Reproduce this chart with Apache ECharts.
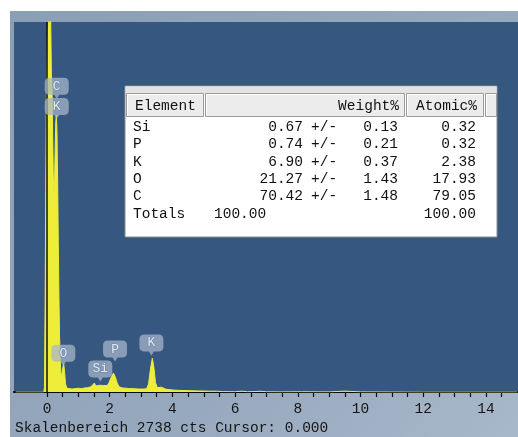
<!DOCTYPE html>
<html>
<head>
<meta charset="utf-8">
<script src="https://cdn.jsdelivr.net/npm/echarts@6/dist/echarts.min.js"></script>
<style>
  html, body { margin: 0; padding: 0; background: #ffffff; }
  #chart { width: 518px; height: 437px; }
</style>
</head>
<body>
<div id="chart"></div>
<script>
// EDS spectrum: energy (keV) and counts
const energy = [
  -1.00, -0.10, -0.08, -0.06, -0.04, -0.02, 0.00, 0.02, 0.04, 0.06, 0.08, 0.10,
  0.12, 0.14, 0.16, 0.18, 0.20, 0.22, 0.24, 0.26, 0.28, 0.30, 0.32, 0.34, 0.36,
  0.38, 0.40, 0.42, 0.44, 0.46, 0.48, 0.50, 0.53, 0.56, 0.59, 0.63, 0.70, 0.80,
  0.90, 1.00, 1.10, 1.20, 1.30, 1.40, 1.46, 1.51, 1.56, 1.62, 1.68, 1.74, 1.80,
  1.86, 1.92, 1.98, 2.05, 2.12, 2.18, 2.24, 2.30, 2.40, 2.50, 2.60, 2.70, 2.80,
  2.90, 3.00, 3.10, 3.18, 3.24, 3.30, 3.36, 3.41, 3.46, 3.52, 3.58, 3.64, 3.70,
  3.80, 3.90, 4.00, 4.20, 4.50, 4.80, 5.00, 5.20, 5.40, 5.60, 6.00, 6.20, 6.40,
  6.80, 7.00, 7.50, 8.00, 8.06, 8.12, 9.00, 9.45, 9.55, 9.60, 10.00, 12.00, 15.00
];
const counts = [
  0, 0, 40, 650, 1500, 2200, 2450, 2600, 2750, 3200, 3600, 3400,
  2700, 2350, 2250, 1900, 1600, 1450, 1550, 1800, 2000, 2050, 1900, 1550, 1100,
  700, 420, 250, 150, 110, 120, 170, 210, 150, 60, 30, 25, 22,
  25, 28, 25, 30, 32, 38, 50, 66, 45, 42, 50, 64, 48,
  42, 48, 70, 110, 140, 110, 65, 38, 30, 28, 26, 25, 24,
  22, 22, 22, 25, 60, 170, 250, 180, 70, 32, 38, 36, 28,
  20, 18, 15, 12, 10, 8, 7, 6, 6, 3, 2, 6, 2,
  5, 2, 1, 2, 6, 2, 1, 6, 6, 1, 1, 0, 0
];

// Element line markers (label, energy keV, counts at marker tip)
const markerNames = ['C', 'K', 'O', 'Si', 'P', 'K'];
const markerEnergy = [0.31, 0.31, 0.52, 1.70, 2.17, 3.33];
const markerCounts = [2170, 2020, 195, 78, 225, 270];

// Quantification table
const tableElements = ['Si', 'P', 'K', 'O', 'C'];
const weightPct = ['0.67', '0.74', '6.90', '21.27', '70.42'];
const weightErr = ['0.13', '0.21', '0.37', '1.43', '1.48'];
const atomicPct = ['0.32', '0.32', '2.38', '17.93', '79.05'];
const totalWeight = '100.00';
const totalAtomic = '100.00';

// Axis
const tickValues = [0, 0.5, 1, 1.5, 2, 2.5, 3, 3.5, 4, 4.5, 5, 5.5, 6, 6.5, 7, 7.5,
  8, 8.5, 9, 9.5, 10, 10.5, 11, 11.5, 12, 12.5, 13, 13.5, 14, 14.5];
const tickLabels = [0, 2, 4, 6, 8, 10, 12, 14];
const scaleCounts = 2738;
const cursorKeV = 0;

const MONO = '"Liberation Mono", "DejaVu Sans Mono", monospace';
const FONT = '14.5px ' + MONO;

const chart = echarts.init(document.getElementById('chart'), null, { renderer: 'canvas' });

// table graphics
const tx = 125, ty = 86, tw = 372, th = 151;
const rowY0 = 127, rowStep = 17.4;
const tableChildren = [
  { type: 'rect', shape: { x: tx, y: ty, width: tw, height: th },
    style: { fill: '#ffffff', stroke: '#8c8c8c', lineWidth: 1 } },
  { type: 'rect', shape: { x: tx + 0.5, y: ty + 0.5, width: tw - 1, height: 7 },
    style: { fill: '#e3e3e3', stroke: null } }
];
const headerCells = [
  { x: 126, w: 77, text: 'Element', align: 'left', tx: 135 },
  { x: 205, w: 199, text: 'Weight%', align: 'right', tx: 399 },
  { x: 406, w: 77, text: 'Atomic%', align: 'right', tx: 477 },
  { x: 485, w: 11, text: '', align: 'left', tx: 486 }
];
headerCells.forEach(c => {
  tableChildren.push({ type: 'rect', shape: { x: c.x + 0.5, y: 93.5, width: c.w, height: 23 },
    style: { fill: '#ececec', stroke: '#9a9a9a', lineWidth: 1 } });
  tableChildren.push({ type: 'polyline', shape: { points: [[c.x + 1.5, 115.5], [c.x + 1.5, 94.5], [c.x + c.w - 0.5, 94.5]] },
    style: { stroke: '#ffffff', lineWidth: 1, fill: null } });
  if (c.text) {
    tableChildren.push({ type: 'text', style: { text: c.text, x: c.tx, y: 106, font: FONT,
      fill: '#111', align: c.align, verticalAlign: 'middle' } });
  }
});
tableElements.forEach((el, i) => {
  const y = rowY0 + i * rowStep;
  tableChildren.push({ type: 'text', style: { text: el, x: 133, y, font: FONT, fill: '#111', align: 'left', verticalAlign: 'middle' } });
  tableChildren.push({ type: 'text', style: { text: weightPct[i], x: 303, y, font: FONT, fill: '#111', align: 'right', verticalAlign: 'middle' } });
  tableChildren.push({ type: 'text', style: { text: '+/-', x: 311, y, font: FONT, fill: '#111', align: 'left', verticalAlign: 'middle' } });
  tableChildren.push({ type: 'text', style: { text: weightErr[i], x: 398, y, font: FONT, fill: '#111', align: 'right', verticalAlign: 'middle' } });
  tableChildren.push({ type: 'text', style: { text: atomicPct[i], x: 476, y, font: FONT, fill: '#111', align: 'right', verticalAlign: 'middle' } });
});
{
  const y = rowY0 + tableElements.length * rowStep;
  tableChildren.push({ type: 'text', style: { text: 'Totals', x: 133, y, font: FONT, fill: '#111', align: 'left', verticalAlign: 'middle' } });
  tableChildren.push({ type: 'text', style: { text: totalWeight, x: 214, y, font: FONT, fill: '#111', align: 'left', verticalAlign: 'middle' } });
  tableChildren.push({ type: 'text', style: { text: totalAtomic, x: 476, y, font: FONT, fill: '#111', align: 'right', verticalAlign: 'middle' } });
}

// marker bubble: rounded box with a small pointer at the bottom
const bubblePath = 'path://M5,0 H19 Q24,0 24,5 V12 Q24,17 19,17 H14.5 L12,21 L9.5,17 H5 Q0,17 0,12 V5 Q0,0 5,0 Z';

const option = {
  animation: false,
  backgroundColor: '#ffffff',
  grid: {
    left: 14, right: 0, top: 22, bottom: 45,
    show: true, backgroundColor: '#365880', borderWidth: 0, containLabel: false
  },
  xAxis: {
    type: 'value',
    min: -1.053, max: 15.024,
    axisLine: { show: true, onZero: false, lineStyle: { color: '#0a0a0a', width: 2 } },
    axisTick: { show: true, customValues: tickValues, length: 5, lineStyle: { color: '#0a0a0a', width: 1.2 } },
    axisLabel: { show: true, customValues: tickLabels, margin: 10, color: '#151515',
      fontFamily: MONO, fontSize: 14.5 },
    splitLine: { show: false }
  },
  yAxis: {
    type: 'value', min: 0, max: scaleCounts, show: false,
    splitLine: { show: false }
  },
  graphic: [
    { type: 'rect', z: -10, shape: { x: 10, y: 11, width: 508, height: 426 },
      style: { fill: new echarts.graphic.LinearGradient(0, 0, 1, 1, [
        { offset: 0, color: '#8a9eb5' }, { offset: 0.6, color: '#97a9be' }, { offset: 1, color: '#a8b8cb' }
      ]) } },
    { type: 'group', z: 100, children: tableChildren },
    { type: 'text', z: 100, style: {
      text: 'Skalenbereich ' + scaleCounts + ' cts Cursor: ' + cursorKeV.toFixed(3),
      x: 15, y: 428, font: FONT, fill: '#151515', align: 'left', verticalAlign: 'middle' } }
  ],
  series: [
    {
      type: 'line',
      data: energy.map((e, i) => [e, counts[i]]),
      symbol: 'none',
      smooth: false,
      lineStyle: { color: '#eeee3a', width: 1 },
      areaStyle: { color: '#eeee3a', opacity: 1 },
      z: 2,
      markLine: {
        silent: true, symbol: 'none', animation: false,
        label: { show: false },
        lineStyle: { color: '#101010', width: 1.5, type: 'solid' },
        data: [{ xAxis: cursorKeV }]
      }
    },
    {
      type: 'scatter',
      data: markerEnergy.map((e, i) => ({ value: [e, markerCounts[i]], name: markerNames[i] })),
      symbol: bubblePath,
      symbolSize: [24, 21],
      symbolOffset: [0, '-50%'],
      itemStyle: { color: 'rgba(168,182,202,0.92)' },
      label: {
        show: true, position: 'inside', offset: [0, -2],
        formatter: p => p.name,
        color: '#ffffff', fontFamily: MONO, fontSize: 13,
        textBorderColor: '#6d8bb0', textBorderWidth: 1.5
      },
      z: 5
    }
  ]
};
chart.setOption(option);
</script>
</body>
</html>
